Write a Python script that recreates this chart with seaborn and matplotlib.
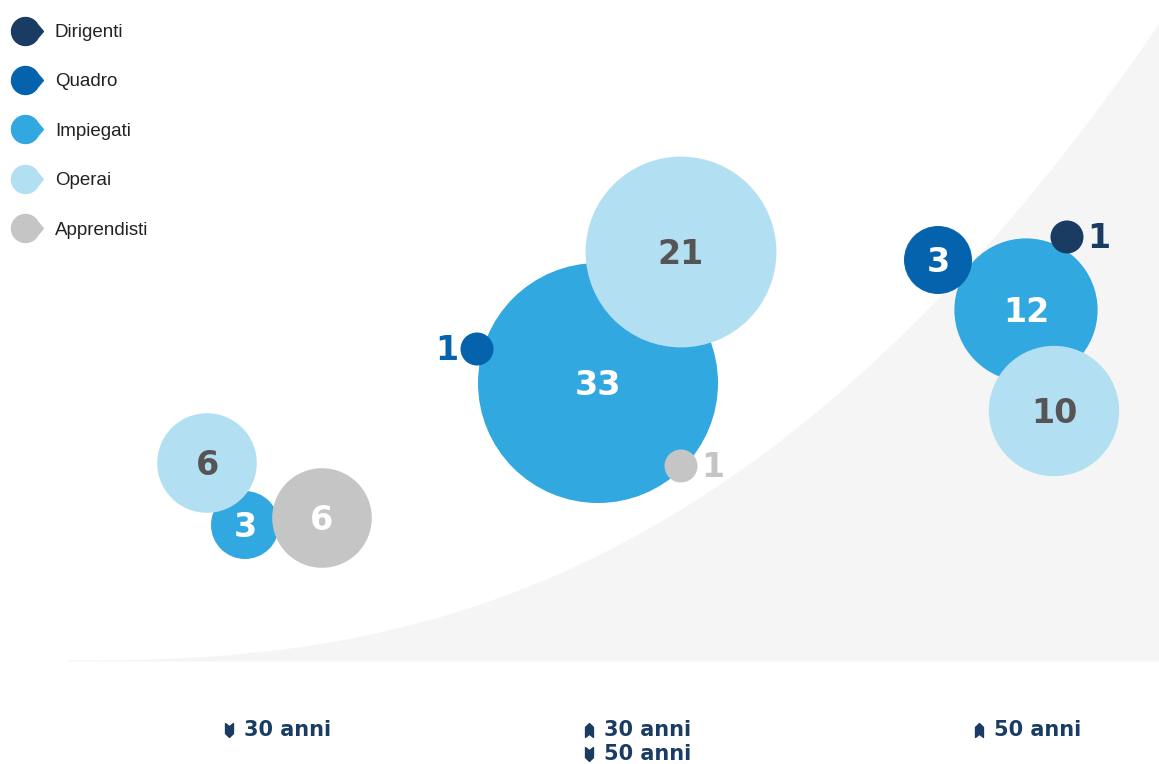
import numpy as np
import pandas as pd
import seaborn as sns
import matplotlib.pyplot as plt
from matplotlib.path import Path
from matplotlib.lines import Line2D

# dati: dipendenti per fascia d'eta e categoria
fascia = ['<30', '30-50', '>50', '<30', '<30', '30-50', '30-50', '30-50', '>50', '>50', '>50']
categoria = ['Impiegati', 'Impiegati', 'Impiegati', 'Operai', 'Apprendisti', 'Operai',
             'Quadro', 'Apprendisti', 'Quadro', 'Operai', 'Dirigenti']
valore = [3, 33, 12, 6, 6, 21, 1, 1, 3, 10, 1]
# posizione delle bolle (layout a grappolo, unita del piano del grafico)
pos_x = [245, 598, 1026, 207, 322, 681, 477, 681, 938, 1054, 1067]
pos_y = [525, 383, 310, 463, 518, 252, 349, 466, 260, 411, 237]
# lato dell'etichetta per le bolle piccole
lato = ['c', 'c', 'c', 'c', 'c', 'c', 'l', 'r', 'c', 'c', 'r']

categorie = ['Dirigenti', 'Quadro', 'Impiegati', 'Operai', 'Apprendisti']
colori = ['#1a3c63', '#0563ad', '#31a8df', '#b3dff2', '#c5c5c5']
fasce_label = [('down', '30 anni'), ('up', '30 anni'), ('down', '50 anni'), ('up', '50 anni')]

palette = dict(zip(categorie, colori))
navy = '#1a3c63'

df = pd.DataFrame({'fascia': fascia, 'categoria': categoria, 'valore': valore,
                   'x': pos_x, 'y': pos_y, 'lato': lato})

sns.set_theme(style='white')
plt.rcParams['font.family'] = ['DejaVu Sans']

fig = plt.figure(figsize=(11.59, 7.64), dpi=100)
ax = fig.add_axes([0, 0, 1, 1])
ax.set_xlim(0, 1159)
ax.set_ylim(764, 0)
ax.axis('off')

# sfondo grigio curvo
xc = np.linspace(67, 1159, 300)
yc = 660 - 637 * ((xc - 67) / 1092) ** 2.5
ax.fill_between(xc, yc, 661, color='#f5f5f5', lw=0, zorder=0)

sns.scatterplot(data=df, x='x', y='y', hue='categoria', palette=palette,
                size='valore', sizes=(565, 29860), size_norm=(1, 33),
                linewidth=0, alpha=1, legend=False, ax=ax, zorder=2)

num_font = dict(family='DejaVu Sans', fontweight='bold', fontsize=24)
for _, r in df.iterrows():
    if r['lato'] == 'c':
        col = '#555555' if r['categoria'] == 'Operai' else 'white'
        ax.annotate(str(r['valore']), (r['x'], r['y']), xytext=(0, -2),
                    textcoords='offset points', ha='center', va='center',
                    color=col, zorder=3, **num_font)
    else:
        dx = -22 if r['lato'] == 'l' else 23
        ax.annotate(str(r['valore']), (r['x'], r['y']), xytext=(dx, -1),
                    textcoords='offset points', ha='center', va='center',
                    color=palette[r['categoria']], zorder=3, **num_font)

# legenda con marcatore a fumetto
th = np.radians(np.linspace(28, 332, 40))
pts = list(zip(np.cos(th), np.sin(th))) + [(1.28, 0)]
bubble = Path(np.array(pts + [pts[0]]), closed=True)
handles = [Line2D([], [], marker=bubble, color=c, markersize=25.8, linestyle='')
           for c in colori]
leg = ax.legend(handles, categorie, loc='upper left', bbox_to_anchor=(10 / 1159, 1 - 24 / 764),
                frameon=False, borderpad=0, borderaxespad=0, handlelength=1.6,
                handletextpad=0.8, labelspacing=1.72,
                prop={'family': 'Liberation Sans', 'size': 13.5})
for t in leg.get_texts():
    t.set_color('#222222')

# etichette fasce d'eta
down = Path(np.array([(-0.57, 1), (0, 0.55), (0.57, 1), (0.57, -0.45), (0, -1),
                      (-0.57, -0.45), (-0.57, 1)]), closed=True)
up = Path(np.array([(-0.57, -1), (0, -0.55), (0.57, -1), (0.57, 0.45), (0, 1),
                    (-0.57, 0.45), (-0.57, -1)]), closed=True)
lab_pos = [(229, 730), (589, 730), (589, 754), (979, 730)]
lab_font = dict(family='DejaVu Sans', fontweight='bold', fontsize=15, color=navy)
for (ic, txt), (lx, ly) in zip(fasce_label, lab_pos):
    ax.plot([lx], [ly], marker=down if ic == 'down' else up, markersize=10,
            color=navy, linestyle='')
    ax.text(lx + 15, ly, txt, ha='left', va='center', **lab_font)

fig.savefig('out.png', dpi=100)
